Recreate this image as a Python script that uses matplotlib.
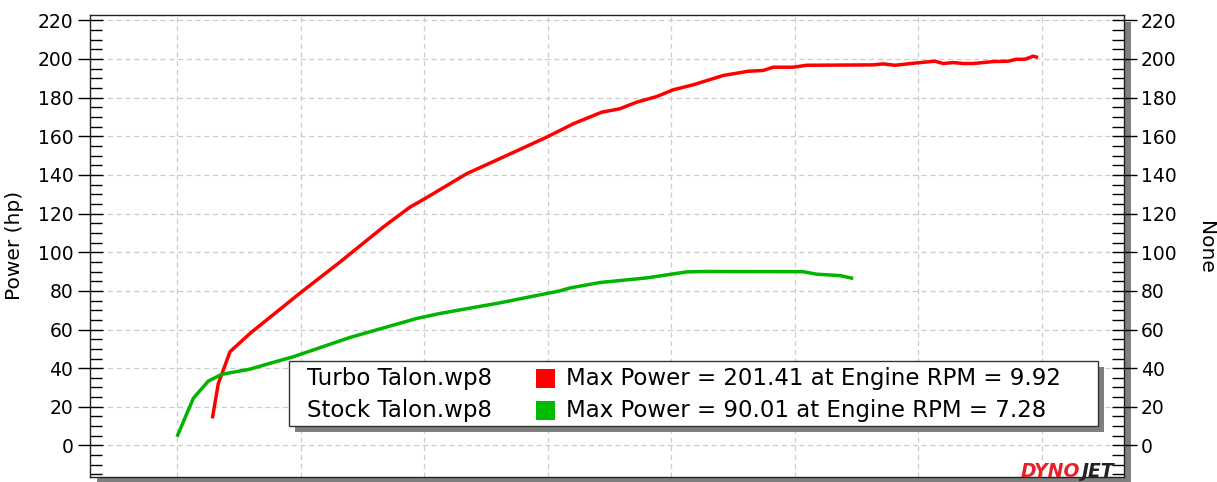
import matplotlib
matplotlib.use("Agg")
import matplotlib.pyplot as plt
from matplotlib.patches import Rectangle
from matplotlib.ticker import MultipleLocator

# ---------------- data ----------------
turbo_rpm = [3.286, 3.334, 3.429, 3.591, 3.995, 4.319, 4.669, 4.885, 5.006, 5.344,
             5.667, 5.991, 6.206, 6.436, 6.584, 6.719, 6.881, 7.015, 7.177, 7.420,
             7.622, 7.743, 7.825, 7.986, 8.095, 8.633, 8.714, 8.809, 8.984, 9.133,
             9.200, 9.281, 9.362, 9.443, 9.604, 9.726, 9.794, 9.861, 9.928, 9.968]
turbo_hp = [14.0, 32.0, 48.5, 58.0, 78.8, 94.9, 113.0, 123.3, 127.7, 140.6,
            150.0, 159.5, 166.4, 172.4, 174.2, 177.6, 180.5, 184.0, 186.6, 191.4,
            193.6, 194.0, 195.7, 195.7, 196.7, 196.9, 197.4, 196.7, 197.9, 198.8,
            197.6, 198.1, 197.6, 197.6, 198.6, 198.8, 199.8, 199.8, 201.41, 200.7]

stock_rpm = [3.0, 3.132, 3.253, 3.362, 3.591, 3.752, 3.941, 4.400, 4.939, 5.128,
             5.613, 6.099, 6.180, 6.422, 6.800, 7.124, 7.28, 8.067, 8.176, 8.364, 8.472]
stock_hp = [4.5, 24.4, 33.3, 36.8, 39.5, 42.5, 45.9, 55.9, 65.7, 68.3,
            73.8, 80.0, 81.5, 84.3, 86.7, 89.8, 90.01, 89.9, 88.6, 87.9, 86.4]

y_ticks = list(range(0, 221, 20))
x_grid = [3, 4, 5, 6, 7, 8, 9, 10]
legend_names = ["Turbo Talon.wp8", "Stock Talon.wp8"]
legend_stats = ["Max Power = 201.41 at Engine RPM = 9.92",
                "Max Power = 90.01 at Engine RPM = 7.28"]

RED = "#ff0000"
GREEN = "#00b400"

W, H = 1217, 482
fig = plt.figure(figsize=(W / 100, H / 100), dpi=100)
plt.rcParams['font.family'] = ['DejaVu Sans']


def fx(px):
    return px / W


def fy(py):
    return 1 - py / H


L, R, T, B = 90, 1124, 15, 477
ax = fig.add_axes([fx(L), fy(B), fx(R) - fx(L), fy(T) - fy(B)], zorder=1)

# shadow of plot area
fig.patches.append(Rectangle((fx(L + 7), fy(B + 7)), fx(R) - fx(L), fy(T) - fy(B),
                             transform=fig.transFigure, facecolor="#7f7f7f",
                             edgecolor="none", zorder=0))

ax.plot(turbo_rpm, turbo_hp, color=RED, lw=2.5, solid_capstyle='butt', zorder=3)
ax.plot(stock_rpm, stock_hp, color=GREEN, lw=2.5, solid_capstyle='butt', zorder=3)

ax.set_xlim(2.296, 10.663)
ax.set_ylim(-16.3, 222.7)

ax.set_yticks(y_ticks)
ax.yaxis.set_minor_locator(MultipleLocator(5))
ax.set_xticks(x_grid)
ax.tick_params(axis='x', which='both', length=0, labelbottom=False)
ax.tick_params(axis='y', which='major', direction='inout', length=18, width=1,
               left=True, right=True, labelleft=True, labelright=True,
               labelsize=13.5, pad=3)
ax.tick_params(axis='y', which='minor', direction='in', length=8.5, width=1,
               left=True, right=True)

ax.grid(True, which='major', color="#cccccc", linestyle=(0, (4, 3)), lw=0.9)
ax.set_axisbelow(True)
for s in ax.spines.values():
    s.set_color("#222222")
    s.set_linewidth(1.0)

fig.text(fx(15), fy(245), "Power (hp)", fontsize=14.5, rotation=90,
         ha='center', va='center')
fig.text(fx(1205), fy(247), "None", fontsize=14.5, rotation=270,
         ha='center', va='center')

# legend box
bx0, by0, bx1, by1 = 289, 361, 1098, 426
fig.patches.append(Rectangle((fx(bx0 + 6), fy(by1 + 6)), fx(bx1) - fx(bx0), fy(by0) - fy(by1),
                             transform=fig.transFigure, facecolor="#7f7f7f",
                             edgecolor="none", zorder=5))
fig.patches.append(Rectangle((fx(bx0), fy(by1)), fx(bx1) - fx(bx0), fy(by0) - fy(by1),
                             transform=fig.transFigure, facecolor="white",
                             edgecolor="#333333", lw=1.0, zorder=6))
rows_y = [378, 410]
for name, stat, col, yy in zip(legend_names, legend_stats, [RED, "#00bb00"], rows_y):
    fig.text(fx(307), fy(yy), name, fontsize=16.5, va='center', ha='left', zorder=7)
    fig.patches.append(Rectangle((fx(536), fy(yy + 9.5)), fx(19), 19 / H,
                                 transform=fig.transFigure, facecolor=col,
                                 edgecolor="none", zorder=7))
    fig.text(fx(566), fy(yy), stat, fontsize=16.5, va='center', ha='left', zorder=7)

# DynoJet logo
fig.text(fx(1080), fy(477), "DYNO", color="#e8202a", fontsize=13.5, fontweight='heavy',
         style='italic', ha='right', va='baseline', zorder=7)
fig.text(fx(1081), fy(477), "JET", color="#222222", fontsize=13.5, fontweight='heavy',
         style='italic', ha='left', va='baseline', zorder=7)

fig.savefig("out.png", dpi=100)
